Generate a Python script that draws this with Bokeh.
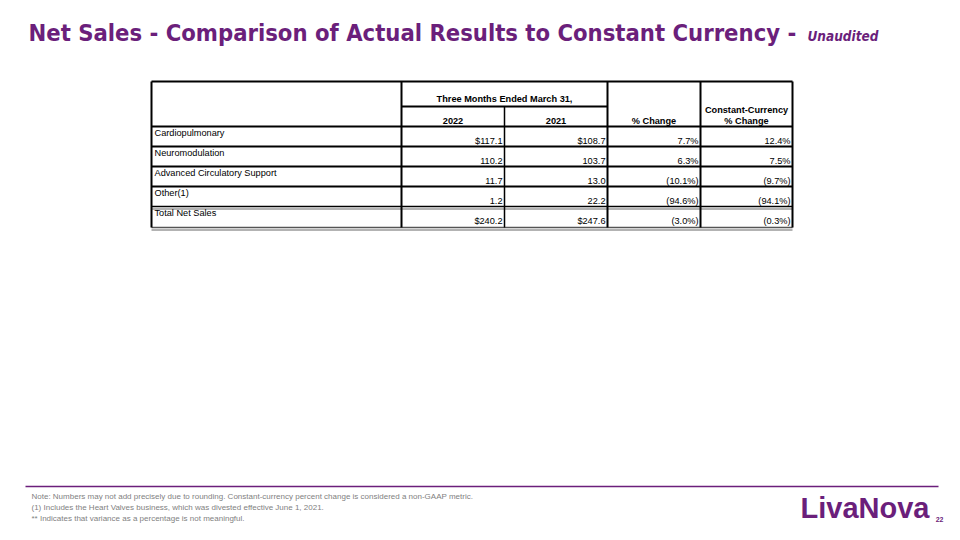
from bokeh.plotting import figure
from bokeh.models import Range1d, ColumnDataSource
from bokeh.core.properties import value
from bokeh.embed import file_html
from bokeh.resources import INLINE

# ---------------- data ----------------
segments = ["Cardiopulmonary", "Neuromodulation", "Advanced Circulatory Support", "Other(1)", "Total Net Sales"]
sales_2022 = [117.1, 110.2, 11.7, 1.2, 240.2]
sales_2021 = [108.7, 103.7, 13.0, 22.2, 247.6]
pct_change = [7.7, 6.3, -10.1, -94.6, -3.0]
cc_pct_change = [12.4, 7.5, -9.7, -94.1, -0.3]
dollar_rows = [0, 4]
period_label = "Three Months Ended March 31,"
year_labels = ["2022", "2021"]
change_label = "% Change"
cc_label = ["Constant-Currency", "% Change"]

title = "Net Sales - Comparison of Actual Results to Constant Currency -"
subtitle = "Unaudited"
notes = [
    "Note: Numbers may not add precisely due to rounding. Constant-currency percent change is considered a non-GAAP metric.",
    "(1) Includes the Heart Valves business, which was divested effective June 1, 2021.",
    "** Indicates that variance as a percentage is not meaningful.",
]
logo = "LivaNova"
page_no = "22"

PURPLE = "#6B1F7B"
GREY = "#7F7F7F"
TFONT = "Liberation Sans"
HFONT = "DejaVu Sans Condensed"


def fmt_amt(v, i):
    s = f"{v:,.1f}"
    return "$" + s if i in dollar_rows else s


def fmt_pct(v):
    return f"({abs(v):.1f}%)" if v < 0 else f"{v:.1f}%"


# ---------------- figure (page pixel coordinates) ----------------
p = figure(width=944, height=524, x_range=Range1d(0, 944), y_range=Range1d(524, 0),
           output_backend="svg", toolbar_location=None, min_border=0)
p.axis.visible = False
p.grid.visible = False
p.outline_line_color = None
p.background_fill_color = "white"
p.border_fill_color = "white"

# title
p.text(x=[28], y=[32], text=[title], text_font=value(HFONT),
       text_font_style="bold", text_font_size="23.6px", text_color=PURPLE,
       text_baseline="middle", text_align="left")
p.text(x=[807], y=[35], text=[subtitle], text_font=value(HFONT),
       text_font_style="bold italic", text_font_size="13.5px", text_color=PURPLE,
       text_baseline="middle", text_align="left")

# ---------------- table geometry ----------------
L, R = 151, 792
c1, c2, c3, c4 = 401, 504, 607, 700
top, sub, hdr = 81, 106, 126
row_h = 20
n = len(segments)
row_tops = [hdr + i * row_h for i in range(n)]
bottom = hdr + n * row_h + 1
FS = "9.2px"

# horizontal black lines
hx0 = [L, c1, L]
hx1 = [R, c3, R]
hy = [top, sub, hdr]
for i in range(1, n - 1):
    hx0.append(L); hx1.append(R); hy.append(row_tops[i])
p.segment(x0=hx0, y0=hy, x1=hx1, y1=hy, line_color="black", line_width=2)
# double line before total
p.segment(x0=[L], y0=[row_tops[n - 1]], x1=[R], y1=[row_tops[n - 1]], line_color="black", line_width=1.5)
p.segment(x0=[L], y0=[row_tops[n - 1] + 2.5], x1=[R], y1=[row_tops[n - 1] + 2.5], line_color="#9a9a9a", line_width=1.5)
# bottom double grey line
p.segment(x0=[L, L], y0=[bottom, bottom + 2.5], x1=[R, R], y1=[bottom, bottom + 2.5],
          line_color=["#555555", "#9a9a9a"], line_width=1.5)

# vertical lines
p.segment(x0=[L, c1, c3, c4, R], y0=[top] * 5, x1=[L, c1, c3, c4, R], y1=[bottom] * 5,
          line_color="black", line_width=2)
p.segment(x0=[c2], y0=[sub], x1=[c2], y1=[bottom], line_color="black", line_width=1.5)

# header text
hsrc = ColumnDataSource(dict(
    x=[(c1 + c3) / 2, (c1 + c2) / 2, (c2 + c3) / 2, (c3 + c4) / 2, (c4 + R) / 2, (c4 + R) / 2],
    y=[98, 120, 120, 120, 109, 120],
    t=[period_label, year_labels[0], year_labels[1], change_label, cc_label[0], cc_label[1]],
))
p.text(x="x", y="y", text="t", source=hsrc, text_font=value(TFONT), text_font_style="bold",
       text_font_size=FS, text_color="black", text_align="center", text_baseline="middle")

# row labels
lsrc = ColumnDataSource(dict(x=[L + 3] * n, y=[t + 6 for t in row_tops], t=segments))
p.text(x="x", y="y", text="t", source=lsrc, text_font=value(TFONT),
       text_font_size=FS, text_color="black", text_align="left", text_baseline="middle")

# values
vx, vy, vt = [], [], []
for i in range(n):
    yy = row_tops[i] + 14
    vals = [fmt_amt(sales_2022[i], i), fmt_amt(sales_2021[i], i),
            fmt_pct(pct_change[i]), fmt_pct(cc_pct_change[i])]
    for xr, s in zip([c2 - 2, c3 - 2, c4 - 2, R - 2], vals):
        vx.append(xr); vy.append(yy); vt.append(s)
vsrc = ColumnDataSource(dict(x=vx, y=vy, t=vt))
p.text(x="x", y="y", text="t", source=vsrc, text_font=value(TFONT),
       text_font_size=FS, text_color="black", text_align="right", text_baseline="middle")

# footer
p.segment(x0=[25], y0=[486], x1=[938], y1=[486], line_color=PURPLE, line_width=1.5)
p.text(x=[31] * 3, y=[496, 507, 518], text=notes, text_font=value(TFONT),
       text_font_size="8px", text_color=GREY, text_align="left", text_baseline="middle")
p.text(x=[800], y=[507], text=[logo], text_font=value(TFONT), text_font_style="bold",
       text_font_size="29px", text_color=PURPLE, text_align="left", text_baseline="middle")
p.text(x=[943], y=[519], text=[page_no], text_font=value(TFONT), text_font_style="bold",
       text_font_size="7px", text_color=PURPLE, text_align="right", text_baseline="middle")

open("out.html", "w").write(file_html(p, INLINE))
